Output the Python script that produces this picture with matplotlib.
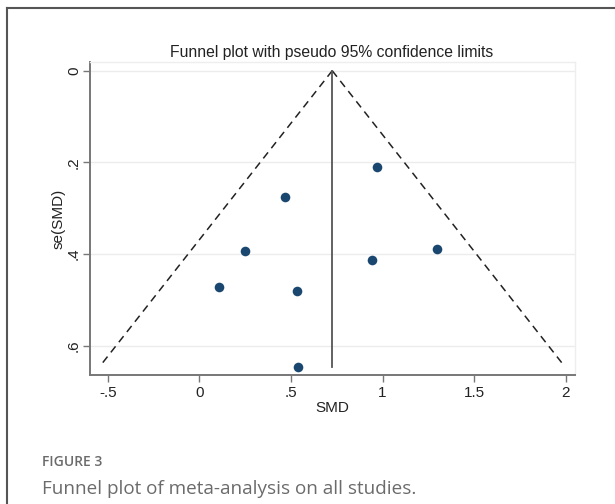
import matplotlib.pyplot as plt
from matplotlib.lines import Line2D

# study estimates
smd = [0.971, 0.468, 0.250, 0.106, 1.299, 0.942, 0.534, 0.537]
se_smd = [0.211, 0.275, 0.393, 0.471, 0.390, 0.414, 0.480, 0.646]

# pooled estimate and pseudo 95% limits
pooled_smd = 0.725
pooled_se = [0.0, 0.646]
left_limit_x = [0.725, -0.545]
right_limit_x = [0.725, 1.995]
limit_y = [0.0, 0.646]

xticks = [-0.5, 0, 0.5, 1, 1.5, 2]
xtick_labels = ['-.5', '0', '.5', '1', '1.5', '2']
yticks = [0, 0.2, 0.4, 0.6]
ytick_labels = ['0', '.2', '.4', '.6']

plt.rcParams['font.family'] = ['Liberation Sans', 'DejaVu Sans']

fig = plt.figure(figsize=(6.15, 5.04), dpi=100)
ax = fig.add_axes([90 / 615, 1 - 375 / 504, 485 / 615, 313 / 504])

ax.set_xlim(-0.597, 2.05)
ax.set_ylim(0.664, -0.019)

for y in yticks:
    ax.axhline(y, color='#ececec', lw=1.0, zorder=0)

ax.plot(left_limit_x, limit_y, color='#222222', lw=1.1, dashes=(5, 3.5))
ax.plot(right_limit_x, limit_y, color='#222222', lw=1.1, dashes=(5, 3.5))
ax.plot([pooled_smd, pooled_smd], pooled_se, color='#555555', lw=1.3)
ax.scatter(smd, se_smd, s=48, color='#1a476f', zorder=3, linewidths=0)

ax.set_xticks(xticks)
ax.set_xticklabels(xtick_labels, fontsize=11, color='#222222')
ax.set_yticks(yticks)
ax.set_yticklabels(ytick_labels, fontsize=11, color='#222222', rotation=90, va='center')
ax.tick_params(direction='out', length=5, width=1.0, color='#777777', pad=3)
ax.tick_params(axis='y', pad=1.5)

for side in ['top', 'right']:
    ax.spines[side].set_color('#eeeeee')
    ax.spines[side].set_linewidth(1.0)
for side in ['left', 'bottom']:
    ax.spines[side].set_color('#777777')
    ax.spines[side].set_linewidth(1.4)

ax.set_xlabel('SMD', fontsize=11, color='#222222', labelpad=1)
ax.set_ylabel('se(SMD)', fontsize=11, color='#222222')
ax.yaxis.set_label_coords(-0.05, 0.5)
fig.text(332 / 615, 1 - 52 / 504, 'Funnel plot with pseudo 95% confidence limits',
         ha='center', va='center', fontsize=11.3, color='#222222')

# frame of the figure panel (only top and left edges are in the picture)
fig.add_artist(Line2D([7 / 615, 1], [1 - 8 / 504, 1 - 8 / 504], transform=fig.transFigure,
                      color='#555555', lw=1.5))
fig.add_artist(Line2D([7 / 615, 7 / 615], [0, 1 - 8 / 504], transform=fig.transFigure,
                      color='#555555', lw=1.5))

fig.text(42 / 615, 1 - 462 / 504, 'FIGURE 3', ha='left', va='center', fontsize=10,
         fontweight='semibold', color='#6b6b6b', family=['Open Sans', 'DejaVu Sans'])
fig.text(42 / 615, 1 - 489 / 504, 'Funnel plot of meta-analysis on all studies.', ha='left',
         va='center', fontsize=13.6, color='#6b6b6b', family=['Open Sans', 'DejaVu Sans'])

plt.savefig('out.png', dpi=100)
